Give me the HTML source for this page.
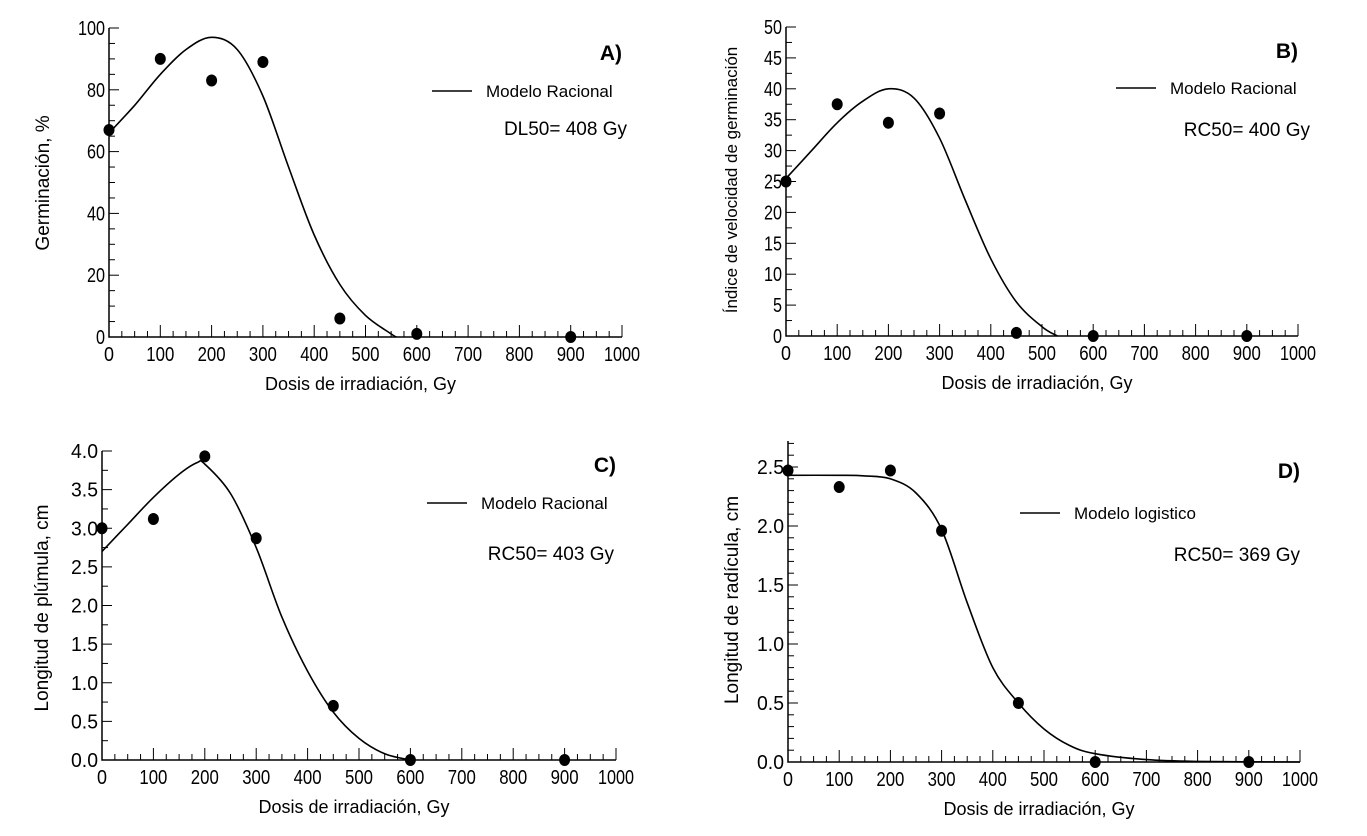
<!DOCTYPE html>
<html><head><meta charset="utf-8"><style>
html,body{margin:0;padding:0;background:#fff;}
svg{display:block;font-family:"Liberation Sans",Arial,sans-serif;}
</style></head><body>
<svg id="s" width="1367" height="836" viewBox="0 0 1367 836"></svg>
<script>
// Panel A data
const doseA=[0,100,200,300,450,600,900];
const valA=[67,90,83,89,6,1,0];
const curveXA=[0,50,100,150,200,250,300,350,400,450,500,550,560];
const curveYA=[66,75,85,93,97,93,78,55,33,17,7,1,0];
// Panel B data
const doseB=[0,100,200,300,450,600,900];
const valB=[25,37.5,34.5,36,0.5,0,0];
const curveXB=[0,50,100,150,200,250,300,350,400,450,500,530];
const curveYB=[25.5,30,34.5,38,40,38.5,32,22,12.5,5.5,1.5,0];
// Panel C data
const doseC=[0,100,200,300,450,600,900];
const valC=[3.0,3.12,3.93,2.87,0.7,0,0];
const curveXC=[0,50,100,150,185,200,250,300,350,400,450,500,550,600];
const curveYC=[2.7,3.05,3.4,3.7,3.85,3.83,3.45,2.75,1.85,1.15,0.62,0.28,0.08,0];
// Panel D data
const doseD=[0,100,200,300,450,600,900];
const valD=[2.47,2.33,2.47,1.96,0.5,0,0];
const curveXD=[0,100,150,200,250,300,350,400,450,500,550,600,700,800,1000];
const curveYD=[2.43,2.43,2.425,2.4,2.28,1.97,1.35,0.8,0.5,0.28,0.14,0.07,0.02,0.005,0];
const xTicks=[0,100,200,300,400,500,600,700,800,900,1000];

const NS="http://www.w3.org/2000/svg";
const svg=document.getElementById('s');
function mk(tag,attrs,parent){const e=document.createElementNS(NS,tag);for(const k in attrs)e.setAttribute(k,attrs[k]);(parent||svg).appendChild(e);return e;}
function smooth(pts){
  let d='M'+pts[0][0].toFixed(1)+' '+pts[0][1].toFixed(1);
  for(let i=0;i<pts.length-1;i++){
    const p0=pts[Math.max(0,i-1)],p1=pts[i],p2=pts[i+1],p3=pts[Math.min(pts.length-1,i+2)];
    const c1x=p1[0]+(p2[0]-p0[0])/6,c1y=p1[1]+(p2[1]-p0[1])/6;
    const c2x=p2[0]-(p3[0]-p1[0])/6,c2y=p2[1]-(p3[1]-p1[1])/6;
    d+=`C${c1x.toFixed(1)} ${c1y.toFixed(1)} ${c2x.toFixed(1)} ${c2y.toFixed(1)} ${p2[0].toFixed(1)} ${p2[1].toFixed(1)}`;
  }
  return d;
}

function panel(o){
  const g=mk('g',{});
  
  
  const sx=v=>o.x0+(o.x1-o.x0)*v/1000;
  const sy=v=>o.y0-(o.y0-o.yTop)*v/o.yMaxVal;
  const ax=mk('path',{d:`M${o.x0} ${o.yAxisTop}V${o.y0}H${o.x1}`,stroke:'#000','stroke-width':1.5,fill:'none'},g);
  
  
  for(let v=0;v<=1000;v+=25){
    const major=v%100===0;
    mk('line',{x1:sx(v),x2:sx(v),y1:o.y0,y2:o.y0-(major?12:6),stroke:'#000','stroke-width':1},g);
  }
  xTicks.forEach(v=>{
    const t=mk('text',{x:sx(v),y:o.y0+24,'text-anchor':'middle','font-size':20,textLength:v>=1000?36:(v>=100?28:10),lengthAdjust:'spacingAndGlyphs'},g);
    t.textContent=v;
    
    
  });
  for(let v=0;v<=o.yAxisMax+1e-9;v+=o.yMinor){
    const isMaj=Math.abs(v/o.yMajor-Math.round(v/o.yMajor))<1e-6;
    mk('line',{x1:o.x0,x2:o.x0+(isMaj?10:6),y1:sy(v),y2:sy(v),stroke:'#000','stroke-width':1},g);
  }
  o.yLabels.forEach(v=>{
    const s=String(o.fmt(v));
    const t=mk('text',{x:o.x0-4,y:sy(v)+7,'text-anchor':'end','font-size':20,textLength:s.length*9,lengthAdjust:'spacingAndGlyphs'},g);
    t.textContent=s;
    
    
  });
  const xt=mk('text',{x:(o.x0+o.x1)/2-5,y:o.y0+53,'text-anchor':'middle','font-size':18},g);
  xt.textContent='Dosis de irradiación, Gy';
  
  
  const yt=mk('text',{x:0,y:0,'text-anchor':'middle','font-size':o.ytSize,transform:`translate(${o.ytX},${o.ytY}) rotate(-90)`},g);
  yt.textContent=o.ytitle;
  
  
  const pts=o.cx.map((v,i)=>[sx(v),sy(o.cy[i])]);
  const c=mk('path',{d:smooth(pts),stroke:'#000','stroke-width':1.6,fill:'none'},g);
  
  
  o.px.forEach((v,i)=>{
    const p=mk('ellipse',{cx:sx(v),cy:sy(o.py[i]),rx:5.5,ry:6,fill:'#000'},g);
    
    
  });
  mk('line',{x1:o.lx,x2:o.lx+40,y1:o.ly,y2:o.ly,stroke:'#000','stroke-width':1.6},g);
  const lt=mk('text',{x:o.lx+54,y:o.ly+6,'font-size':17},g);
  lt.textContent=o.legend;
  
  
  const nt=mk('text',{x:o.nx,y:o.ny,'text-anchor':'end','font-size':19},g);
  nt.textContent=o.note;
  
  
  const pl=mk('text',{x:o.x1,y:o.plY,'text-anchor':'end','font-size':21,'font-weight':'bold'},g);
  pl.textContent=o.id+')';
  
  
}

panel({id:'A',x0:109,x1:622,y0:337,yTop:28,yAxisTop:28,yMaxVal:100,yAxisMax:100,yMajor:20,yMinor:5,
  yLabels:[0,20,40,60,80,100],fmt:v=>v,ytitle:'Germinación,  %',ytSize:19,ytX:49,ytY:183,
  cx:curveXA,cy:curveYA,px:doseA,py:valA,lx:432,ly:91,legend:'Modelo Racional',nx:627,ny:135,note:'DL50= 408 Gy',plY:60});
panel({id:'B',x0:786,x1:1298,y0:336,yTop:27,yAxisTop:27,yMaxVal:50,yAxisMax:50,yMajor:5,yMinor:2.5,
  yLabels:[0,5,10,15,20,25,30,35,40,45,50],fmt:v=>v,ytitle:'Índice de velocidad de germinación',ytSize:17,ytX:737,ytY:180,
  cx:curveXB,cy:curveYB,px:doseB,py:valB,lx:1116,ly:88,legend:'Modelo Racional',nx:1310,ny:136,note:'RC50= 400 Gy',plY:58});
panel({id:'C',x0:102,x1:616,y0:760,yTop:451,yAxisTop:451,yMaxVal:4,yAxisMax:4,yMajor:0.5,yMinor:0.25,
  yLabels:[0,0.5,1,1.5,2,2.5,3,3.5,4],fmt:v=>v.toFixed(1),ytitle:'Longitud de plúmula, cm',ytSize:19,ytX:48,ytY:608,
  cx:curveXC,cy:curveYC,px:doseC,py:valC,lx:427,ly:503,legend:'Modelo Racional',nx:614,ny:560,note:'RC50= 403 Gy',plY:472});
panel({id:'D',x0:788,x1:1300,y0:762,yTop:467,yAxisTop:441,yMaxVal:2.5,yAxisMax:2.7,yMajor:0.5,yMinor:0.1,
  yLabels:[0,0.5,1,1.5,2,2.5],fmt:v=>v.toFixed(1),ytitle:'Longitud de radícula, cm',ytSize:19,ytX:738,ytY:600,
  cx:curveXD,cy:curveYD,px:doseD,py:valD,lx:1020,ly:513,legend:'Modelo logistico',nx:1300,ny:561,note:'RC50= 369 Gy',plY:478});
</script>
</body></html>
